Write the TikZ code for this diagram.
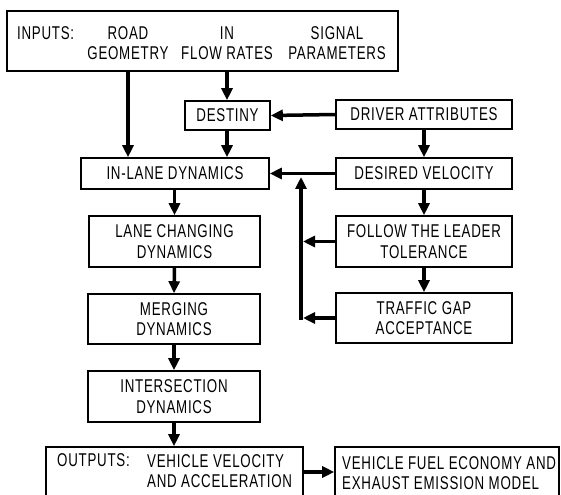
\documentclass[tikz,border=0pt]{standalone}
\usepackage{fontspec}
\setmainfont{Liberation Sans}[FakeStretch=0.72,LetterSpace=4]
\usetikzlibrary{arrows.meta,calc}
\newcommand\diagfont{\fontsize{18.5bp}{20.5bp}\selectfont}
\begin{document}
\begin{tikzpicture}[x=1bp,y=-1bp,
  box/.style={draw, line width=1.6bp, fill=white, inner sep=0pt, align=center, font=\diagfont},
  lbl/.style={inner sep=0pt, font=\diagfont},
  arr/.style={line width=3.5bp, -{Triangle[length=12bp,width=11bp]}},
]
\clip (0,0) rectangle (561,495);
\fill[white] (0,0) rectangle (561,495);
% boxes
\node[box, minimum width=391bp, minimum height=60bp] (inputs) at (202.5,41) {};
\node[lbl, anchor=west] (inlbl) at (17,33) {INPUTS:};
\node[lbl, align=center] (road) at (128,43) {ROAD\\GEOMETRY};
\node[lbl, align=center] (flow) at (227,43) {IN\\FLOW RATES};
\node[lbl, align=center] (signal) at (337,43) {SIGNAL\\PARAMETERS};

\node[box, minimum width=85bp, minimum height=29bp] (destiny) at (227.5,115.5) {DESTINY};
\node[box, minimum width=176bp, minimum height=29bp] (driver) at (424,114.5) {DRIVER ATTRIBUTES};
\node[box, minimum width=188bp, minimum height=31bp] (inlane) at (175,173.5) {IN-LANE DYNAMICS};
\node[box, minimum width=176bp, minimum height=31bp] (desired) at (424,173.5) {DESIRED VELOCITY};
\node[box, minimum width=171bp, minimum height=51bp] (lanechg) at (174.5,241.5) {LANE CHANGING\\DYNAMICS};
\node[box, minimum width=176bp, minimum height=51bp] (follow) at (424,241.5) {FOLLOW THE LEADER\\TOLERANCE};
\node[box, minimum width=172bp, minimum height=50bp] (merging) at (174,319) {MERGING\\DYNAMICS};
\node[box, minimum width=176bp, minimum height=50bp] (traffic) at (424,318) {TRAFFIC GAP\\ACCEPTANCE};
\node[box, minimum width=172bp, minimum height=51bp] (intersect) at (174,396.5) {INTERSECTION\\DYNAMICS};

\node[box, minimum width=257bp, minimum height=60bp] (outputs) at (174.5,477) {};
\node[lbl, anchor=west] (outlbl) at (57,460) {OUTPUTS:};
\node[lbl, align=left, anchor=west] (outtxt) at (147,471) {VEHICLE VELOCITY\\AND ACCELERATION};
\node[box, minimum width=224bp, minimum height=60bp] (fuel) at (447,477) {};
\node[lbl, align=left, anchor=west] (fueltxt) at (342,473) {VEHICLE FUEL ECONOMY AND\\EXHAUST EMISSION MODEL};

% helper coordinates
\coordinate (bustop) at (301,177);
\coordinate (busx) at (303,0);
\coordinate (oy) at (0,472);

% connectors
\draw[arr] (inputs.south -| road) -- (inlane.north -| road);
\draw[arr] (inputs.south -| flow) -- (destiny.north -| flow);
\draw[arr] (driver.west) -- (destiny.east);
\draw[arr] (destiny.south -| flow) -- (inlane.north -| flow);
\draw[arr] (driver.south) -- (desired.north);
\draw[arr] (desired.west) -- (inlane.east);
\draw[arr] (desired.south) -- (follow.north);
\draw[arr] (follow.south) -- (traffic.north);
\draw[arr] (follow.west) -- (follow.west -| busx);
\draw[arr] (traffic.west) -- (traffic.west -| busx);
\draw[arr] ($(traffic.west -| bustop)+(0,1.75)$) -- (bustop);
\draw[arr] (inlane.south -| lanechg) -- (lanechg.north);
\draw[arr] (lanechg.south) -- (merging.north);
\draw[arr] (merging.south) -- (intersect.north);
\draw[arr] (intersect.south) -- (outputs.north -| intersect);
\draw[arr] (outputs.east |- oy) -- (fuel.west |- oy);
\end{tikzpicture}
\end{document}
